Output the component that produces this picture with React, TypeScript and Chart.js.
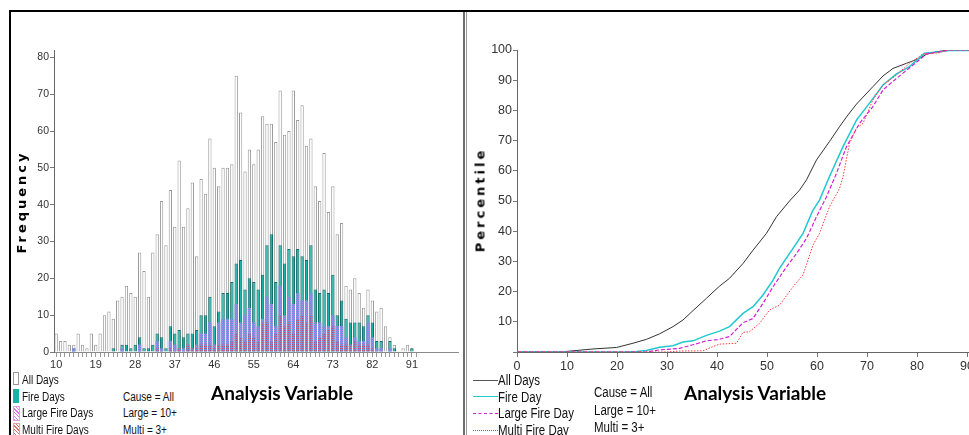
import React, { useEffect, useRef } from "react";
import { Chart, registerables } from "chart.js";
Chart.register(...registerables);

// ---------- Histogram data (Analysis Variable 10..101) ----------
const categories = [
  "10","11","12","13","14","15","16","17","18","19",
  "20","21","22","23","24","25","26","27","28","29",
  "30","31","32","33","34","35","36","37","38","39",
  "40","41","42","43","44","45","46","47","48","49",
  "50","51","52","53","54","55","56","57","58","59",
  "60","61","62","63","64","65","66","67","68","69",
  "70","71","72","73","74","75","76","77","78","79",
  "80","81","82","83","84","85","86","87","88","89",
  "90","91","92","93","94","95","96","97","98","99",
  "100","101",
];
const shownTickLabels = ["10", "19", "28", "37", "46", "55", "64", "73", "82", "91"];
const lastTickedCategory = "92";
const freqTicks = [0, 10, 20, 30, 40, 50, 60, 70, 80];

const allDays = [
  5,3,3,2,2,5,2,1,5,2,
  5,10,11,9,14,15,18,16,15,27,
  22,15,27,32,41,29,44,34,52,34,
  39,46,26,47,43,58,50,45,50,50,
  51,75,65,49,55,51,55,64,62,62,
  57,71,59,60,71,63,67,56,58,45,
  41,54,38,45,32,35,18,17,20,16,
  12,17,14,11,12,7,4,2,0,1,
  2,1,0,0,0,0,0,0,0,0,
  0,0,
];
const fireDays = [
  0,0,0,0,1,0,0,0,0,0,
  0,0,0,1,0,2,2,1,2,4,
  1,1,2,5,4,1,7,5,6,4,
  5,5,6,10,10,15,7,11,16,16,
  19,24,25,17,20,19,17,21,29,32,
  19,29,24,28,26,28,26,25,29,17,
  16,17,16,21,10,14,9,8,8,8,
  7,10,8,3,3,0,3,1,0,0,
  0,1,0,0,0,0,0,0,0,0,
  0,0,
];
const largeFireDays = [
  0,0,0,0,1,0,0,0,0,0,
  0,0,0,0,0,1,0,0,0,2,
  0,0,0,3,1,0,3,2,1,1,
  2,1,2,5,5,8,2,8,9,9,
  9,13,8,10,12,8,7,9,15,13,
  7,18,10,15,13,16,14,14,16,8,
  8,7,7,10,7,7,4,2,4,3,
  3,8,4,1,1,0,1,0,0,0,
  0,0,0,0,0,0,0,0,0,0,
  0,0,
];
const multiFireDays = [
  0,0,0,0,0,0,0,0,0,0,
  0,0,0,0,0,0,0,0,0,0,
  0,0,0,1,0,0,1,0,1,0,
  2,1,1,2,2,2,1,2,2,2,
  3,5,4,3,5,4,3,8,8,3,
  5,10,7,8,5,9,10,8,10,3,
  4,5,6,7,3,2,2,2,3,2,
  2,2,1,0,0,0,0,0,0,0,
  0,0,0,0,0,0,0,0,0,0,
  0,0,
];

// ---------- Percentile curves ----------
const allDaysPctX = [0,9.2,9.9,15.2,19.9,23.2,25.9,28.5,31.2,33.2,35.2,37.9,40.5,42.5,45.2,47.2,49.9,51.9,54.5,56.5,57.9,59.9,62.5,64.5,66.2,67.9,71.2,73.2,75.2,77.9,80.5,81.9,83.9,86.2,100];
const allDaysPctY = [0,0,0.2,1.0,1.5,2.9,4.2,6.0,8.4,10.6,13.7,17.8,21.8,24.4,29.3,33.7,39.3,44.8,50,53.6,57,63.6,69.7,74.6,78.5,82.1,87.9,91.4,93.9,95.6,97.2,98.6,99.4,100,100];
const firePctX = [0,21.9,23.9,25.9,28.5,31.2,33.2,35.2,37.9,40.5,42.5,45.2,47.2,49.2,51.2,52.5,55.2,57.2,59.2,60.5,62.5,65.2,67.9,70.5,73.2,75.9,78.5,81.5,84.5,86.5,100];
const firePctY = [0,0,0.2,0.5,1.6,2.1,3.3,3.7,5.5,6.9,8.4,12.8,15.0,18.9,23.8,27.7,34.3,39.3,47,50.3,58.1,68,76.8,82.4,88.4,92.1,94.5,98.9,99.4,99.8,99.8];
const largePctX = [0,25.9,28.5,32.5,35.2,37.9,40.5,42.5,45.2,47.2,49.2,51.2,53.9,55.9,57.9,59.9,61.9,63.9,65.9,68.5,71.2,73.2,75.9,79.2,81.9,84.5,86.5,100];
const largePctY = [0,0,0.7,1.2,2.4,3.7,4.2,5.1,9.7,11.1,16.1,21.6,28.2,32.6,37.6,44.8,51.4,59.2,68,75.7,81.3,86.8,90.6,95,98.7,99.4,100,100];
const multiPctX = [0,30,32.5,37.2,39.2,40.5,43.9,45.2,46.5,48.5,50.5,52.5,55.2,57.2,59.2,60.5,62.5,64.5,65.2,66.5,67.9,69.2,71.2,73.2,75.9,78.5,81.2,84.5,85.9,100];
const multiPctY = [0,0,0.3,0.4,1.8,2.6,2.9,6.5,6.7,9.5,13.9,15.5,21.6,25.5,35.4,39.3,48.1,54.1,58,69.1,74.1,75.7,83.5,88.4,91.7,95.6,98.7,99.1,100,100];

const SANS = "'Liberation Sans', Arial, sans-serif";
const TEAL = "#17b3a9";

function makePattern(cells: (string | null)[]) {
  const c = document.createElement("canvas");
  c.width = 2;
  c.height = 2;
  const ctx = c.getContext("2d")!;
  cells.forEach((col, i) => {
    if (!col) return;
    ctx.fillStyle = col;
    ctx.fillRect(i % 2, Math.floor(i / 2), 1, 1);
  });
  return ctx.createPattern(c, "repeat") as CanvasPattern;
}

function pts(xs: number[], ys: number[]) {
  return xs.map((x, i) => ({ x, y: ys[i] }));
}

const lastTickIdx = categories.indexOf(lastTickedCategory);

function HistChart() {
  const ref = useRef<HTMLCanvasElement>(null);
  useEffect(() => {
    const largePat = makePattern(["#b08ce8", "#6c8ee2", "#6c8ee2", "#8290e4"]);
    const multiPat = makePattern(["rgba(190,60,80,0.75)", null, null, "rgba(200,110,130,0.35)"]);
    const common = { grouped: false, barPercentage: 0.75, categoryPercentage: 1 };
    const chart = new Chart(ref.current!, {
      type: "bar",
      data: {
        labels: categories,
        datasets: [
          { label: "Multi Fire Days", data: multiFireDays, backgroundColor: multiPat, borderWidth: 0, order: 1, ...common } as any,
          { label: "Large Fire Days", data: largeFireDays, backgroundColor: largePat, borderWidth: 0, order: 2, ...common } as any,
          { label: "Fire Days", data: fireDays, backgroundColor: TEAL, borderColor: "#0f6f69", borderWidth: 1, order: 3, ...common } as any,
          { label: "All Days", data: allDays, backgroundColor: "#ffffff", borderColor: "#9a9a9a", borderWidth: 1, order: 4, ...common } as any,
        ],
      },
      options: {
        responsive: false,
        animation: false,
        events: [],
        layout: { padding: { top: 38, right: 4, left: 0, bottom: 0 } },
        plugins: { legend: { display: false }, tooltip: { enabled: false } },
        scales: {
          x: {
            type: "category",
            grid: {
              display: true,
              drawOnChartArea: false,
              drawTicks: true,
              tickLength: 5,
              offset: false,
              color: (ctx: any) => (ctx.index <= lastTickIdx ? "#9a9a9a" : "rgba(0,0,0,0)"),
            },
            border: { display: true, color: "#8a8a8a" },
            ticks: {
              autoSkip: false,
              maxRotation: 0,
              padding: 1,
              color: "#333",
              font: { family: SANS, size: 11 },
              callback: function (this: any, v: any) {
                const l = categories[v as number];
                return shownTickLabels.includes(l) ? l : "";
              },
            },
            afterFit: (s: any) => { s.height = 32; },
          },
          y: {
            min: 0,
            max: 82,
            grid: { display: true, drawOnChartArea: false, drawTicks: true, tickLength: 4, color: "#777" },
            border: { display: true, color: "#666" },
            ticks: { padding: 1, color: "#333", font: { family: SANS, size: 10.5 } },
            afterBuildTicks: (s: any) => { s.ticks = freqTicks.map((v) => ({ value: v })); },
            afterFit: (s: any) => { s.width = 42; },
          },
        },
      } as any,
    });
    return () => chart.destroy();
  }, []);
  return <canvas ref={ref} width={450} height={372} style={{ position: "absolute", left: 12, top: 12 }} />;
}

function PctChart() {
  const ref = useRef<HTMLCanvasElement>(null);
  useEffect(() => {
    const chart = new Chart(ref.current!, {
      type: "line",
      data: {
        datasets: [
          { label: "Multi Fire Day", data: pts(multiPctX, multiPctY), borderColor: "#ff3a3a", borderWidth: 1, borderDash: [1.5, 1.5], pointRadius: 0 },
          { label: "Large Fire Day", data: pts(largePctX, largePctY), borderColor: "#d020d8", borderWidth: 1.2, borderDash: [4, 2], pointRadius: 0 },
          { label: "Fire Day", data: pts(firePctX, firePctY), borderColor: "#20c8d0", borderWidth: 1.5, pointRadius: 0 },
          { label: "All Days", data: pts(allDaysPctX, allDaysPctY), borderColor: "#333333", borderWidth: 1, pointRadius: 0 },
        ],
      },
      options: {
        responsive: false,
        animation: false,
        events: [],
        layout: { padding: { top: 38, right: 13, left: 0, bottom: 0 } },
        plugins: { legend: { display: false }, tooltip: { enabled: false } },
        scales: {
          x: {
            type: "linear",
            min: 0,
            max: 100,
            grid: { display: true, drawOnChartArea: false, drawTicks: true, tickLength: 5, color: "#777" },
            border: { display: true, color: "#666" },
            ticks: { stepSize: 10, padding: 2, maxRotation: 0, color: "#333", font: { family: SANS, size: 12.5 } },
            afterFit: (s: any) => { s.height = 32; },
          },
          y: {
            min: 0,
            max: 100,
            grid: { display: true, drawOnChartArea: false, drawTicks: true, tickLength: 4, color: "#777" },
            border: { display: true, color: "#666" },
            ticks: {
              stepSize: 10,
              padding: 1,
              color: "#333",
              font: { family: SANS, size: 12.5 },
              callback: (v: any) => (v === 0 ? "" : String(v)),
            },
            afterFit: (s: any) => { s.width = 49; },
          },
        },
      } as any,
    });
    return () => chart.destroy();
  }, []);
  return <canvas ref={ref} width={562} height={372} style={{ position: "absolute", left: 468, top: 12 }} />;
}

const abs = (left: number, top: number, extra: any = {}) =>
  ({ position: "absolute", left, top, whiteSpace: "nowrap", ...extra } as React.CSSProperties);

export default function App() {
  const lt = { fontFamily: SANS, fontSize: 12.5, color: "#111", lineHeight: "14px", transform: "scaleX(0.8)", transformOrigin: "0 0" };
  const rt = { fontFamily: SANS, fontSize: 14, color: "#111", lineHeight: "16px", transform: "scaleX(0.82)", transformOrigin: "0 0" };
  const big = { fontFamily: "Lato, 'Open Sans', sans-serif", fontWeight: 700, fontSize: 19, color: "#000", lineHeight: "22px" };
  const axisTitle = { fontFamily: "'DejaVu Sans', sans-serif", fontWeight: 700, fontSize: 13, letterSpacing: "3px", color: "#000" };
  return (
    <div style={{ position: "fixed", left: 0, top: 0, width: 969, height: 435, overflow: "hidden", background: "#fff" }}>
      <HistChart />
      <PctChart />

      {/* frame */}
      <div style={abs(9, 10, { width: 960, height: 2, background: "#000" })} />
      <div style={abs(9, 10, { width: 2, height: 425, background: "#000" })} />
      <div style={abs(463, 12, { width: 2, height: 423, background: "#6e6e6e" })} />
      <div style={abs(466, 12, { width: 1, height: 423, background: "#9a9a9a" })} />

      {/* axis titles */}
      <div style={abs(21, 202, { ...axisTitle, transform: "translate(-50%,-50%) rotate(-90deg)" })}>Frequency</div>
      <div style={abs(480, 200, { ...axisTitle, transform: "translate(-50%,-50%) rotate(-90deg)" })}>Percentile</div>

      {/* left legend */}
      <div style={abs(13, 372, { width: 4, height: 11, border: "1px solid #999", background: "#fff" })} />
      <div style={abs(22, 373, lt)}>All Days</div>
      <div style={abs(13, 389, { width: 6, height: 14, background: TEAL })} />
      <div style={abs(22, 390, lt)}>Fire Days</div>
      <div style={abs(13, 406, { width: 5, height: 13, border: "1px solid #e0a0e8", background: "repeating-linear-gradient(45deg, #e070e8 0 1px, #fff 1px 2.5px)" })} />
      <div style={abs(22, 406, lt)}>Large Fire Days</div>
      <div style={abs(13, 423, { width: 5, height: 13, border: "1px solid #e8a0a0", background: "repeating-linear-gradient(45deg, #e07070 0 1px, #fff 1px 2.5px)" })} />
      <div style={abs(22, 423, lt)}>Multi Fire Days</div>
      <div style={abs(123, 390, lt)}>Cause = All</div>
      <div style={abs(123, 406, lt)}>Large = 10+</div>
      <div style={abs(123, 423, lt)}>Multi = 3+</div>
      <div style={abs(211, 382, big)}>Analysis Variable</div>

      {/* right legend */}
      <div style={abs(473, 380, { width: 25, height: 1, background: "#555" })} />
      <div style={abs(498, 372, rt)}>All Days</div>
      <div style={abs(473, 396, { width: 25, height: 0, borderTop: "1.5px solid #20c8d0" })} />
      <div style={abs(498, 389, rt)}>Fire Day</div>
      <div style={abs(473, 413, { width: 25, height: 0, borderTop: "1px dashed #d020d8" })} />
      <div style={abs(498, 405, rt)}>Large Fire Day</div>
      <div style={abs(473, 430, { width: 25, height: 0, borderTop: "1px dotted #ff3a3a" })} />
      <div style={abs(498, 422, rt)}>Multi Fire Day</div>
      <div style={abs(594, 384, rt)}>Cause = All</div>
      <div style={abs(594, 402, rt)}>Large = 10+</div>
      <div style={abs(594, 419, rt)}>Multi = 3+</div>
      <div style={abs(684, 382, big)}>Analysis Variable</div>
    </div>
  );
}
